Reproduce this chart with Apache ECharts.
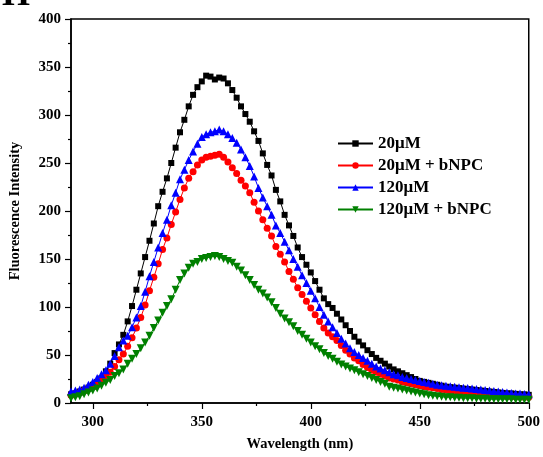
<!DOCTYPE html>
<html><head><meta charset="utf-8">
<script src="https://cdn.jsdelivr.net/npm/echarts@6/dist/echarts.min.js"></script>
<style>html,body{margin:0;padding:0;background:#fff}#c{width:543px;height:457px}</style>
</head><body><div id="c"></div>
<script>
const wavelength = [290,292,294,296,298,300,302,304,306,308,310,312,314,316,318,320,322,324,326,328,
330,332,334,336,338,340,342,344,346,348,350,352,354,356,358,360,362,364,366,368,
370,372,374,376,378,380,382,384,386,388,390,392,394,396,398,400,402,404,406,408,
410,412,414,416,418,420,422,424,426,428,430,432,434,436,438,440,442,444,446,448,
450,452,454,456,458,460,462,464,466,468,470,472,474,476,478,480,482,484,486,488,
490,492,494,496,498,500];
const s20 = [9,10,12,14,16,19,22,26,33,41,
52,61,71,85,101,118,135,152,169,187,
205,220,234,250,266,282,295,309,321,329,
335,341,340,337,339,338,333,326,318,309,
301,293,283,273,260,248,237,222,210,196,
185,174,162,152,144,136,127,118,109,103,
99,93,87,81,75,69,64,60,55,51,
47,44,41,38,35,33,31,29,27,25,
23,22,21,20,19,18,17,16.5,16,15.5,
15,14.5,14,13.5,13,12.5,12,11.5,11,10.5,
10,10,9.5,9,9,8.5];
const s20b = [8,10,11,13,15,17,20,24,28,32,
38,45,51,59,68,78,89,102,117,131,
145,160,172,186,199,212,224,234,241,248,
253,256,257,258,259,256,251,245,239,232,
226,219,209,200,191,182,174,163,155,147,
137,129,120,113,106,99,92,85,78,73,
69,65,60,55,51,47,44,40,37,34,
32,30,28,26,25,24,22,21,20,19,
18,17,16.5,16,15,14,13.5,13,12.5,12,
11.5,11,10.5,10,9.5,9,8.5,8,8,7.5,
7,7,6.5,6.5,6,6];
const s120 = [12,13,14,16,19,22,26,30,34,41,
49,58,65,70,79,89,101,116,132,147,
162,177,191,206,219,233,243,253,262,270,
277,280,282,283,285,283,280,276,271,264,
256,247,236,224,214,205,196,185,177,168,
159,150,142,133,125,117,109,100,92,85,
79,73,67,62,57,53,50,47,44,41,
38,36,34,32,30,29,27,26,25,24,
23,22,21,20,19,18.5,18,17.5,17,16.5,
16,15.5,15,14.5,14,13.5,13,12.5,12,11.5,
11,10.5,10,10,9.5,9];
const s120b = [5,6,7,9,11,13,15,18,21,24,
28,31,35,41,46,51,57,63,70,78,
86,94,101,108,118,128,135,141,145,147,
150,151,152,153,152,150,148,146,142,138,
133,128,123,118,114,110,105,99,93,88,
84,80,75,71,67,63,59,56,52,49,
46,43,40,38,36,34,32,30,28,26,
24,22,20,17,16,15,14,13,12,11,
10,9,8,7.5,7,6.5,6,6,5.5,5.5,
5,5,5,4.5,4.5,4.5,4,4,4,4,
4,4,3.5,3.5,3.5,3.5];
const seriesNames = ['20\u03bcM','20\u03bcM + bNPC','120\u03bcM','120\u03bcM + bNPC'];
const xMajorTicks = [300,350,400,450,500];
const xMinorTicks = [325,375,425,475];

const FONT = 'Liberation Serif';
const colors = ['#000000','#ff0000','#0000ff','#008000'];
const symbols = ['rect','circle','triangle','path://M0,0 L10,0 L5,9 Z'];
const sizes = [6,7,8,8];
const allData = [s20, s20b, s120, s120b];

const chart = echarts.init(document.getElementById('c'), null, {renderer:'canvas'});
const mk = (arr) => wavelength.map((w,i)=>[w, arr[i]]);
const axisLineStyle = {color:'#000', width:1.5};
chart.setOption({
  animation:false,
  backgroundColor:'#fff',
  graphic:[{type:'text', x:2, y:-22, style:{text:'H', font:'bold 36px "Liberation Serif"', fill:'#000'}}],
  grid:{left:71, right:14, top:19, bottom:53, show:true, borderColor:'#000', borderWidth:1.5, backgroundColor:'transparent'},
  legend:{
    orient:'vertical', left:332, top:130, itemWidth:35, itemHeight:8, itemGap:5,
    data:seriesNames,
    textStyle:{fontFamily:FONT, fontWeight:'bold', fontSize:17, color:'#000'}
  },
  xAxis:[{
    type:'value', min:290, max:500,
    name:'Wavelength (nm)', nameLocation:'middle', nameGap:34,
    nameTextStyle:{fontFamily:FONT, fontWeight:'bold', fontSize:14.5, color:'#000'},
    axisLine:{show:true, lineStyle:axisLineStyle},
    axisTick:{show:true, length:6, lineStyle:{color:'#000', width:1.2}, customValues:xMajorTicks},
    axisLabel:{fontFamily:FONT, fontWeight:'bold', fontSize:15, color:'#000', margin:12, customValues:xMajorTicks},
    splitLine:{show:false}
  },{
    type:'value', min:290, max:500, position:'bottom',
    axisLine:{show:false},
    axisTick:{show:true, length:3, lineStyle:{color:'#000', width:1.2}, customValues:xMinorTicks},
    axisLabel:{show:false},
    splitLine:{show:false}
  }],
  yAxis:{
    type:'value', min:0, max:400, interval:50,
    name:'Fluorescence Intensity', nameLocation:'middle', nameGap:48,
    nameTextStyle:{fontFamily:FONT, fontWeight:'bold', fontSize:14.5, color:'#000'},
    axisLine:{show:true, lineStyle:axisLineStyle},
    axisTick:{show:true, length:6, lineStyle:{color:'#000', width:1.2}},
    minorTick:{show:true, splitNumber:2, length:3, lineStyle:{color:'#000', width:1.2}},
    axisLabel:{fontFamily:FONT, fontWeight:'bold', fontSize:15, color:'#000', margin:10},
    splitLine:{show:false}
  },
  series: seriesNames.map((n,i)=>({
    name:n, type:'line', xAxisIndex:0, data:mk(allData[i]),
    symbol:symbols[i], symbolSize:sizes[i], showSymbol:true,
    lineStyle:{color:colors[i], width:1}, itemStyle:{color:colors[i]},
    emphasis:{disabled:true}
  }))
});
</script></body></html>
